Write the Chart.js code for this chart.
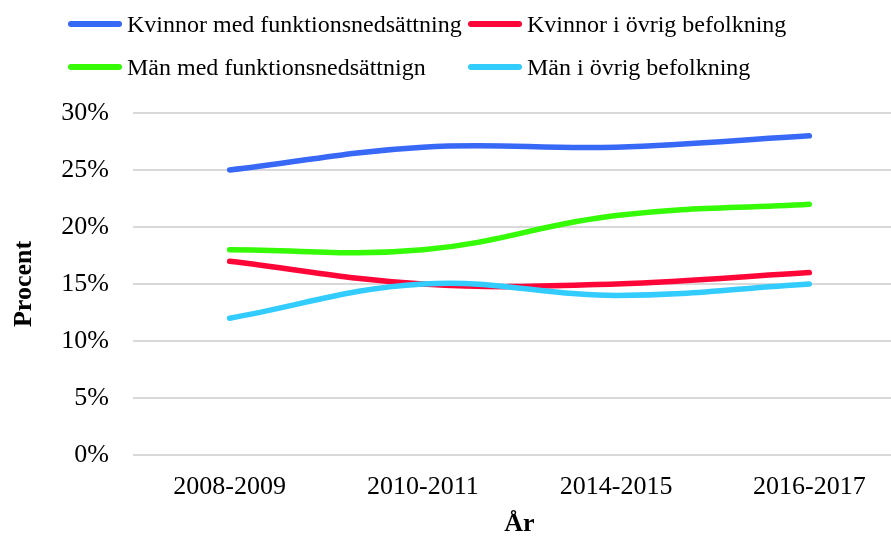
<!doctype html>
<html lang="sv"><head><meta charset="utf-8">
<title>Procent per år</title>
<script src="https://cdn.jsdelivr.net/npm/chart.js@4.4.0/dist/chart.umd.min.js"></script>
<style>
  html,body{margin:0;padding:0;background:#fff}
  #wrap{position:relative;width:891px;height:540px;overflow:hidden;font-family:'Liberation Serif','Times New Roman',serif}
  #box{position:absolute;left:0;top:0;width:906px;height:540px}
  .lg{position:absolute;display:flex;align-items:center;font-size:24px;color:#000;white-space:nowrap;height:30px}
  .lg i{display:inline-block;width:54px;height:6px;border-radius:3px;margin-right:5px}
</style></head><body>
<div id="wrap">
  <div id="box"><canvas id="c" width="906" height="540"></canvas></div>
  <div id="legend"></div>
</div>
<script>
// data
const YEARS = ['2008-2009', '2010-2011', '2014-2015', '2016-2017'];
const SERIES = ['Kvinnor med funktionsnedsättning', 'Kvinnor i övrig befolkning', 'Män med funktionsnedsättnign', 'Män i övrig befolkning'];
const COLORS = ['#3868f6', '#ff0638', '#36fb06', '#33ccff'];
const KVINNOR_FN = [25, 27, 27, 28];
const KVINNOR_OVR = [17, 15, 15, 16];
const MAN_FN = [18, 18, 21, 22];
const MAN_OVR = [12, 15, 14, 15];
const Y_TICKS = [0, 5, 10, 15, 20, 25, 30];

const VALUES = [KVINNOR_FN, KVINNOR_OVR, MAN_FN, MAN_OVR];

// legend (2 x 2, like the original)
const LEG_POS = [[68, 9], [468, 9], [68, 52], [468, 52]];
document.getElementById('legend').innerHTML = SERIES.map((s, i) =>
  `<div class="lg" style="left:${LEG_POS[i][0]}px;top:${LEG_POS[i][1]}px"><i style="background:${COLORS[i]}"></i>${s}</div>`
).join('');

Chart.defaults.font.family = "'Liberation Serif','Times New Roman',serif";
Chart.defaults.color = '#000';

new Chart(document.getElementById('c'), {
  type: 'line',
  data: {
    labels: YEARS,
    datasets: SERIES.map((name, i) => ({
      label: name,
      data: VALUES[i],
      borderColor: COLORS[i],
      backgroundColor: COLORS[i],
      borderWidth: 5.5,
      borderCapStyle: 'round',
      pointRadius: 0,
      tension: 0.4,
      order: SERIES.length - i, // later series on top, as in the original
    })),
  },
  options: {
    responsive: false,
    animation: false,
    layout: { padding: { top: 113, left: 0, right: 0, bottom: 0 } },
    plugins: { legend: { display: false }, tooltip: { enabled: false } },
    scales: {
      x: {
        offset: true,
        grid: { display: false, drawTicks: false },
        border: { display: false },
        ticks: { font: { size: 26 }, padding: 17, maxRotation: 0 },
        title: { display: true, text: 'År', font: { size: 26, weight: 'bold' }, padding: { top: 0, bottom: 0 } },
        afterFit: s => { s.height = 85; },
      },
      y: {
        min: 0, max: 30,
        afterBuildTicks: s => { s.ticks = Y_TICKS.map(v => ({ value: v })); },
        grid: { color: '#d9d9d9', lineWidth: 2, drawTicks: false },
        border: { display: false },
        ticks: { font: { size: 26 }, padding: 24, callback: v => v + '%' },
        title: { display: true, text: 'Procent', font: { size: 26, weight: 'bold' }, padding: { top: 9, bottom: 0 } },
        afterFit: s => { s.width = 133; },
      },
    },
  },
});
</script>
</body></html>
